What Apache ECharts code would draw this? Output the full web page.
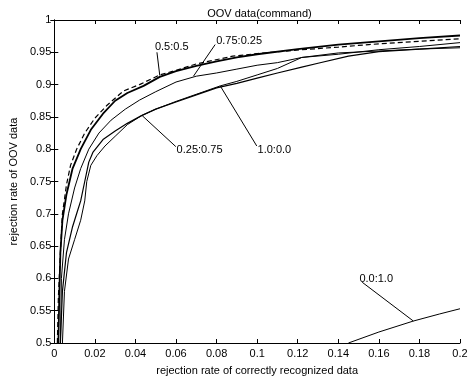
<!DOCTYPE html>
<html><head><meta charset="utf-8">
<script src="https://cdn.jsdelivr.net/npm/echarts@6/dist/echarts.min.js"></script>
<style>html,body{margin:0;padding:0;background:#fff}#c{width:474px;height:381px}</style>
</head><body><div id="c"></div>
<script>
const titleText = 'OOV data(command)';
const xName = 'rejection rate of correctly recognized data';
const yName = 'rejection rate of OOV data';

const a_x = [0.002,0.0025,0.003,0.004,0.006,0.009,0.013,0.018,0.024,0.03,0.036,0.044,0.052,0.06,0.07,0.08,0.09,0.10,0.12,0.14,0.16,0.18,0.20];
const a_y = [0.50,0.58,0.64,0.69,0.73,0.77,0.80,0.83,0.855,0.875,0.887,0.898,0.912,0.921,0.929,0.936,0.942,0.947,0.955,0.962,0.967,0.972,0.976];

const d_x = [0.0015,0.002,0.003,0.004,0.006,0.008,0.011,0.015,0.02,0.026,0.034,0.042,0.052,0.06,0.07,0.088,0.10,0.122,0.14,0.155,0.18,0.20];
const d_y = [0.50,0.57,0.64,0.70,0.745,0.775,0.80,0.825,0.848,0.868,0.89,0.90,0.915,0.922,0.932,0.944,0.948,0.954,0.958,0.962,0.967,0.971];

const b_x = [0.003,0.0035,0.005,0.007,0.010,0.013,0.017,0.022,0.028,0.035,0.042,0.05,0.06,0.07,0.08,0.09,0.10,0.11,0.122,0.14,0.16,0.18,0.20];
const b_y = [0.50,0.60,0.66,0.70,0.74,0.77,0.80,0.825,0.845,0.862,0.876,0.889,0.904,0.913,0.918,0.924,0.93,0.934,0.942,0.947,0.954,0.959,0.965];

const c_x = [0.003,0.004,0.006,0.009,0.011,0.013,0.015,0.017,0.019,0.024,0.03,0.036,0.043,0.05,0.06,0.07,0.08,0.09,0.10,0.11,0.122,0.13,0.145,0.16,0.18,0.20];
const c_y = [0.50,0.58,0.64,0.68,0.70,0.72,0.75,0.78,0.795,0.815,0.828,0.84,0.852,0.862,0.873,0.884,0.895,0.902,0.91,0.918,0.927,0.933,0.944,0.951,0.955,0.959];

const e_x = [0.004,0.005,0.007,0.010,0.013,0.015,0.016,0.018,0.021,0.025,0.03,0.036,0.043,0.05,0.06,0.07,0.0818,0.09,0.10,0.11,0.122,0.14,0.16,0.18,0.20];
const e_y = [0.50,0.58,0.63,0.66,0.69,0.72,0.75,0.775,0.79,0.805,0.82,0.838,0.852,0.862,0.874,0.885,0.898,0.905,0.915,0.925,0.942,0.949,0.952,0.955,0.957];

const f_x = [0.145,0.16,0.177,0.19,0.20];
const f_y = [0.50,0.517,0.534,0.545,0.553];

const labelNames = ['0.5:0.5','0.75:0.25','0.25:0.75','1.0:0.0','0.0:1.0'];
const labelX = [0.0496,0.0798,0.0603,0.1002,0.1504];
const labelY = [0.959,0.968,0.799,0.799,0.599];
const leadFromX = [0.0506,0.0793,0.0599,0.0998,0.1518];
const leadFromY = [0.950,0.962,0.804,0.805,0.594];
const leadToX = [0.052,0.0686,0.0433,0.0818,0.177];
const leadToY = [0.914,0.913,0.852,0.898,0.534];

const xTicks = ['0','0.02','0.04','0.06','0.08','0.1','0.12','0.14','0.16','0.18','0.2'];
const yTicks = ['0.5','0.55','0.6','0.65','0.7','0.75','0.8','0.85','0.9','0.95','1'];

const zip = (xs, ys) => xs.map((x, i) => [x, ys[i]]);
const FONT = 'Liberation Sans, Arial, Helvetica, sans-serif';

function curve(name, xs, ys, width, type) {
  return {
    name, type: 'line', data: zip(xs, ys), symbol: 'none', clip: true,
    lineStyle: { color: '#000', width: width, type: type || 'solid' }, z: 3
  };
}

const series = [
  curve('0.5:0.5', a_x, a_y, 1.8),
  curve('dashed', d_x, d_y, 1.2, [5, 3]),
  curve('0.75:0.25', b_x, b_y, 1),
  curve('0.25:0.75', c_x, c_y, 1.2),
  curve('1.0:0.0', e_x, e_y, 1),
  curve('0.0:1.0', f_x, f_y, 1)
];

labelNames.forEach((n, i) => {
  series.push({
    name: 'leader ' + n, type: 'line', symbol: 'none', z: 4,
    data: [[leadFromX[i], leadFromY[i]], [leadToX[i], leadToY[i]]],
    lineStyle: { color: '#000', width: 1 },
    markPoint: {
      symbol: 'circle', symbolSize: 0,
      data: [{ coord: [labelX[i], labelY[i]] }],
      label: {
        show: true, formatter: n, position: 'right', distance: 0,
        color: '#000', fontSize: 11, fontFamily: FONT, align: 'left', verticalAlign: 'middle'
      }
    }
  });
});

const tickStyle = { color: '#000', fontSize: 11, fontFamily: FONT };
const chart = echarts.init(document.getElementById('c'), null, { renderer: 'canvas' });
chart.setOption({
  backgroundColor: '#fff',
  animation: false,
  title: {
    text: titleText, left: 254.5, textAlign: 'center', top: 3,
    textStyle: { color: '#000', fontSize: 11, fontWeight: 'normal', fontFamily: FONT }
  },
  grid: { left: 49, right: 14, top: 20, bottom: 33 },
  xAxis: [
    {
      type: 'value', min: 0, max: 0.2, interval: 0.02, position: 'bottom',
      name: xName, nameLocation: 'middle', nameGap: 22,
      nameTextStyle: tickStyle,
      axisLine: { show: true, lineStyle: { color: '#000', width: 1 } },
      axisTick: { show: true, inside: true, length: 4, lineStyle: { color: '#000' } },
      axisLabel: { ...tickStyle, margin: 5, formatter: (v) => xTicks[Math.round(v / 0.02)] },
      splitLine: { show: false }
    },
    {
      type: 'value', min: 0, max: 0.2, interval: 0.02, position: 'top',
      axisLine: { show: true, lineStyle: { color: '#000', width: 1 } },
      axisTick: { show: true, inside: true, length: 4, lineStyle: { color: '#000' } },
      axisLabel: { show: false }, splitLine: { show: false }
    }
  ],
  yAxis: [
    {
      type: 'value', min: 0.5, max: 1, interval: 0.05, position: 'left',
      name: yName, nameLocation: 'middle', nameGap: 13,
      nameTextStyle: tickStyle,
      axisLine: { show: true, lineStyle: { color: '#000', width: 1 } },
      axisTick: { show: true, inside: true, length: 4, lineStyle: { color: '#000' } },
      axisLabel: { ...tickStyle, margin: 3, formatter: (v) => yTicks[Math.round((v - 0.5) / 0.05)] },
      splitLine: { show: false }
    },
    {
      type: 'value', min: 0.5, max: 1, interval: 0.05, position: 'right',
      axisLine: { show: true, lineStyle: { color: '#000', width: 1 } },
      axisTick: { show: true, inside: true, length: 4, lineStyle: { color: '#000' } },
      axisLabel: { show: false }, splitLine: { show: false }
    }
  ],
  series: series
});
</script>
</body></html>
